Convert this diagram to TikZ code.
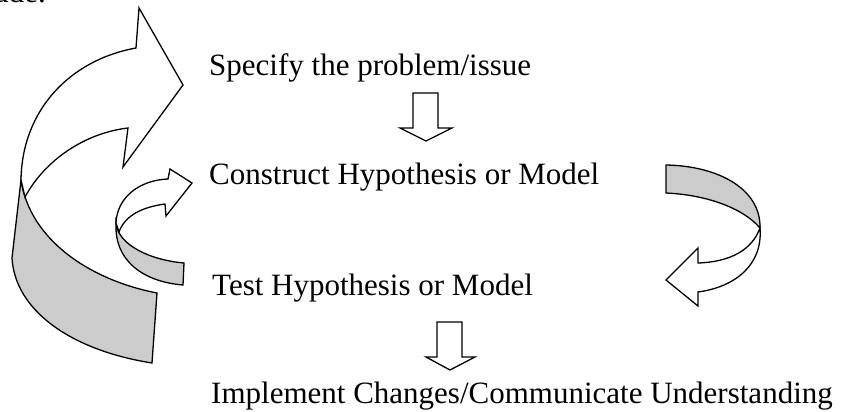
\documentclass[tikz,border=0pt]{standalone}
\usepackage{fontspec}
\setmainfont{Liberation Serif}
\definecolor{ribbongray}{RGB}{204,204,204}
\tikzset{
  outl/.style={draw=black, line width=1.3pt, line join=miter},
  backface/.style={outl, fill=ribbongray},
  frontface/.style={outl, fill=white},
  lbl/.style={anchor=base west, inner sep=0pt, font=\fontsize{31}{37}\selectfont}
}
\begin{document}
\begin{tikzpicture}[x=1pt,y=-1pt]
\useasboundingbox (0,0) rectangle (854,412);

% cut-off text at top
\node[anchor=base east, inner sep=0pt, font=\fontsize{31}{37}\selectfont] (cut) at (46,3) {ude.};

% text lines
\node[lbl] (spec) at (209,76) {Specify the problem/issue};
\node[lbl] (cons) at (209,184) {Construct Hypothesis or Model};
\node[lbl] (test) at (212,295) {Test Hypothesis or Model};
\node[lbl] (impl) at (211,403) {Implement Changes/Communicate Understanding};

% down block arrows
\draw[frontface] (413,93) -- (438,93) -- (438,128) -- (452,128) -- (426,141) -- (400,128) -- (413,128) -- cycle;
\draw[frontface] (437,322) -- (462,322) -- (462,357) -- (475,357) -- (450,370) -- (426,357) -- (437,357) -- cycle;

% big left curved arrow: back ribbon
\draw[backface] (21,180) -- (12,258) .. controls (15,310) and (70,350) .. (152,363)
   -- (157,293) .. controls (90,280) and (30,240) .. (21,180) -- cycle;
% big left curved arrow: front
\draw[frontface] (21,180) .. controls (22,110) and (70,60) .. (136,48)
   -- (139,8) -- (183,85) -- (123,167) -- (128,128)
   .. controls (85,133) and (45,160) .. (25,197) -- cycle;

% small left curved arrow: back ribbon
\draw[backface] (116,223) .. controls (114,262) and (145,282) .. (183,285)
   -- (184,263) .. controls (150,260) and (118,245) .. (116,223) -- cycle;
% small left curved arrow: front
\draw[frontface] (116,223) .. controls (117,197) and (140,180) .. (168,179)
   -- (170,169) -- (192,183) -- (166,216) -- (165,204)
   .. controls (143,207) and (125,215) .. (119,232) -- cycle;

% right curved arrow: back ribbon
\draw[backface] (666,165) .. controls (720,166) and (761,190) .. (760,228)
   .. controls (745,210) and (710,195) .. (666,193) -- cycle;
% right curved arrow: front
\draw[frontface] (760,228) .. controls (763,265) and (735,287) .. (698,292)
   -- (698,306) -- (666,280) -- (698,248) -- (698,263)
   .. controls (730,262) and (752,250) .. (760,228) -- cycle;
\end{tikzpicture}
\end{document}
